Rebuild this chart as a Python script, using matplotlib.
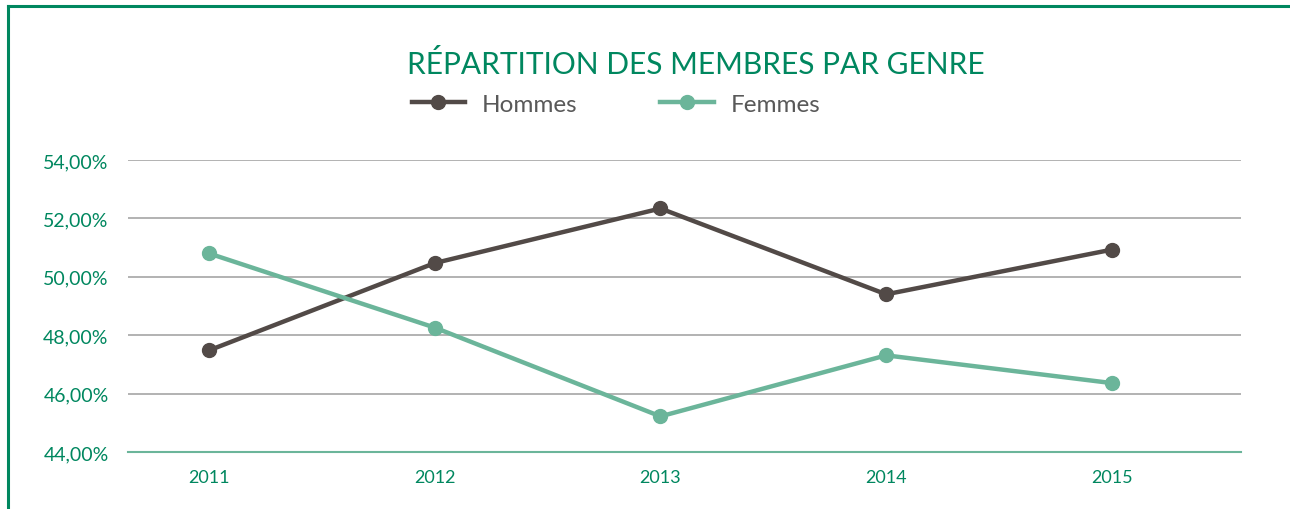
import matplotlib.pyplot as plt
from matplotlib.ticker import FuncFormatter

annees = ["2011", "2012", "2013", "2014", "2015"]
hommes = [47.48, 50.47, 52.34, 49.40, 50.93]
femmes = [50.80, 48.26, 45.22, 47.31, 46.36]
yticks = [44, 46, 48, 50, 52, 54]

VERT = "#00875f"
C_HOM = "#524a47"
C_FEM = "#6bb59a"

plt.rcParams['font.family'] = ['Lato', 'DejaVu Sans']

fig = plt.figure(figsize=(12.9, 5.1), dpi=100)

# cadre vert (haut + gauche)
fig.add_artist(plt.Line2D([8/1290, 1], [1 - 7/510, 1 - 7/510], color=VERT, lw=2.2))
fig.add_artist(plt.Line2D([8/1290, 8/1290], [0, 1 - 7/510], color=VERT, lw=2.2))

ax = fig.add_axes([128/1290, 57/510, 1113/1290, 292/510])
x = list(range(len(annees)))

ax.plot(x, hommes, "-o", color=C_HOM, lw=3.2, ms=10, label="Hommes", zorder=3)
ax.plot(x, femmes, "-o", color=C_FEM, lw=3.2, ms=10, label="Femmes", zorder=3)

ax.set_xlim(-0.359, 4.572)
ax.set_ylim(44, 54)
ax.set_yticks(yticks)
ax.yaxis.set_major_formatter(FuncFormatter(lambda v, p: ("%.2f%%" % v).replace(".", ",")))
ax.set_xticks(x)
ax.set_xticklabels(annees)

ax.grid(axis="y", color="#a6a6a6", lw=1.2)
ax.set_axisbelow(True)
for s in ["top", "right", "left"]:
    ax.spines[s].set_visible(False)
ax.spines["bottom"].set_color(C_FEM)
ax.spines["bottom"].set_linewidth(1.5)
ax.tick_params(axis="y", length=0, colors=VERT, labelsize=14, pad=14)
ax.tick_params(axis="x", length=0, colors=VERT, labelsize=13, pad=12)

fig.text(696/1290, 1 - 65/510, "RÉPARTITION DES MEMBRES PAR GENRE", color=VERT,
         fontsize=21.5, ha="center", va="center")

fig.legend(loc="center", bbox_to_anchor=(616/1290, 1 - 105/510), ncol=2, frameon=False,
           fontsize=17.5, handlelength=2.2, handletextpad=0.7, columnspacing=3.4,
           labelcolor="#595959")

plt.savefig("out.png")
